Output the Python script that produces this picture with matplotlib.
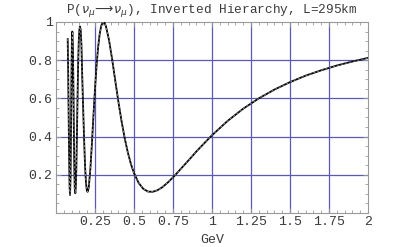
import matplotlib
matplotlib.use("Agg")
import matplotlib.pyplot as plt
from matplotlib.ticker import MultipleLocator, FixedLocator

# ----------------------------------------------------------------------
# Datos (energía en GeV, probabilidad de supervivencia)
# ----------------------------------------------------------------------
energia = [
    0.075, 0.078, 0.081, 0.084, 0.087, 0.090, 0.093, 0.096, 0.099, 0.102,
    0.105, 0.108, 0.111, 0.114, 0.117, 0.120, 0.124, 0.127, 0.130, 0.134,
    0.138, 0.142, 0.146, 0.150, 0.154, 0.158, 0.163, 0.168, 0.174, 0.180,
    0.186, 0.192, 0.198, 0.203, 0.21, 0.22, 0.23, 0.24, 0.25, 0.26,
    0.27, 0.28, 0.29, 0.30, 0.31, 0.32, 0.34, 0.36, 0.38, 0.40,
    0.42, 0.44, 0.46, 0.48, 0.50, 0.53, 0.56, 0.59, 0.62, 0.65,
    0.68, 0.72, 0.76, 0.80, 0.85, 0.90, 0.95, 1.00, 1.10, 1.20,
    1.30, 1.40, 1.50, 1.60, 1.70, 1.80, 1.90, 2.00,
]
prob = [
    0.91, 0.74, 0.52, 0.30, 0.14, 0.094, 0.18, 0.42, 0.70, 0.90,
    0.95, 0.88, 0.70, 0.47, 0.26, 0.13, 0.103, 0.14, 0.22, 0.40,
    0.60, 0.78, 0.90, 0.96, 0.976, 0.96, 0.88, 0.72, 0.55, 0.39,
    0.25, 0.16, 0.115, 0.111, 0.134, 0.227, 0.361, 0.509, 0.650, 0.772,
    0.868, 0.937, 0.980, 0.998, 0.997, 0.978, 0.905, 0.804, 0.692, 0.582,
    0.482, 0.393, 0.318, 0.257, 0.209, 0.157, 0.126, 0.112, 0.111, 0.119,
    0.134, 0.162, 0.195, 0.231, 0.276, 0.322, 0.365, 0.407, 0.482, 0.546,
    0.600, 0.646, 0.685, 0.719, 0.747, 0.772, 0.793, 0.812,
]

x_ticks = [0.25, 0.5, 0.75, 1, 1.25, 1.5, 1.75, 2]
x_labels = ["0.25", "0.5", "0.75", "1", "1.25", "1.5", "1.75", "2"]
y_ticks = [0.2, 0.4, 0.6, 0.8, 1]
y_labels = ["0.2", "0.4", "0.6", "0.8", "1"]

titulo = r"P($\nu_\mu\!\longrightarrow\!\nu_\mu$), Inverted Hierarchy, L=295km"

# ----------------------------------------------------------------------
# Figura
# ----------------------------------------------------------------------
plt.rcParams.update({
    "font.family": ["Liberation Mono", "DejaVu Sans Mono"],
    "font.size": 9.5,
})

COLOR_GRID = "#5a5ab4"
COLOR_FRAME = "#999999"
COLOR_TEXT = "#3a3a3a"

fig = plt.figure(figsize=(4.0, 2.47), dpi=100)
ax = fig.add_axes([0.14, 0.1377, 0.78, 0.7733])

ax.set_xlim(0, 2)
ax.set_ylim(0, 1)

# rejilla azul
for xv in x_ticks[:-1]:
    ax.axvline(xv, color=COLOR_GRID, lw=0.9, zorder=1)
for yv in y_ticks[:-1]:
    ax.axhline(yv, color=COLOR_GRID, lw=0.9, zorder=1)

# curva: negra sólida + trazo gris discontinuo encima
ax.plot(energia, prob, color="black", lw=1.3, zorder=3, solid_joinstyle="round")
ax.plot(energia, prob, color="#b0b0b0", lw=0.5, ls=(0, (3, 3)), zorder=4)

for s in ax.spines.values():
    s.set_color(COLOR_FRAME)
    s.set_linewidth(0.8)

ax.xaxis.set_major_locator(FixedLocator(x_ticks))
ax.set_xticklabels(x_labels)
ax.yaxis.set_major_locator(FixedLocator(y_ticks))
ax.set_yticklabels(y_labels)
ax.xaxis.set_minor_locator(MultipleLocator(0.05))
ax.yaxis.set_minor_locator(MultipleLocator(0.05))

ax.tick_params(which="both", direction="in", top=True, right=True,
               color=COLOR_FRAME, width=0.6)
ax.tick_params(which="major", length=3.5, pad=2.5, labelcolor=COLOR_TEXT)
ax.tick_params(which="minor", length=2)

ax.set_xlabel("GeV", labelpad=4, color=COLOR_TEXT)
ax.set_title(titulo, pad=6.5, color=COLOR_TEXT, fontsize=9.2)

fig.savefig("out.png", dpi=100, facecolor="white")
